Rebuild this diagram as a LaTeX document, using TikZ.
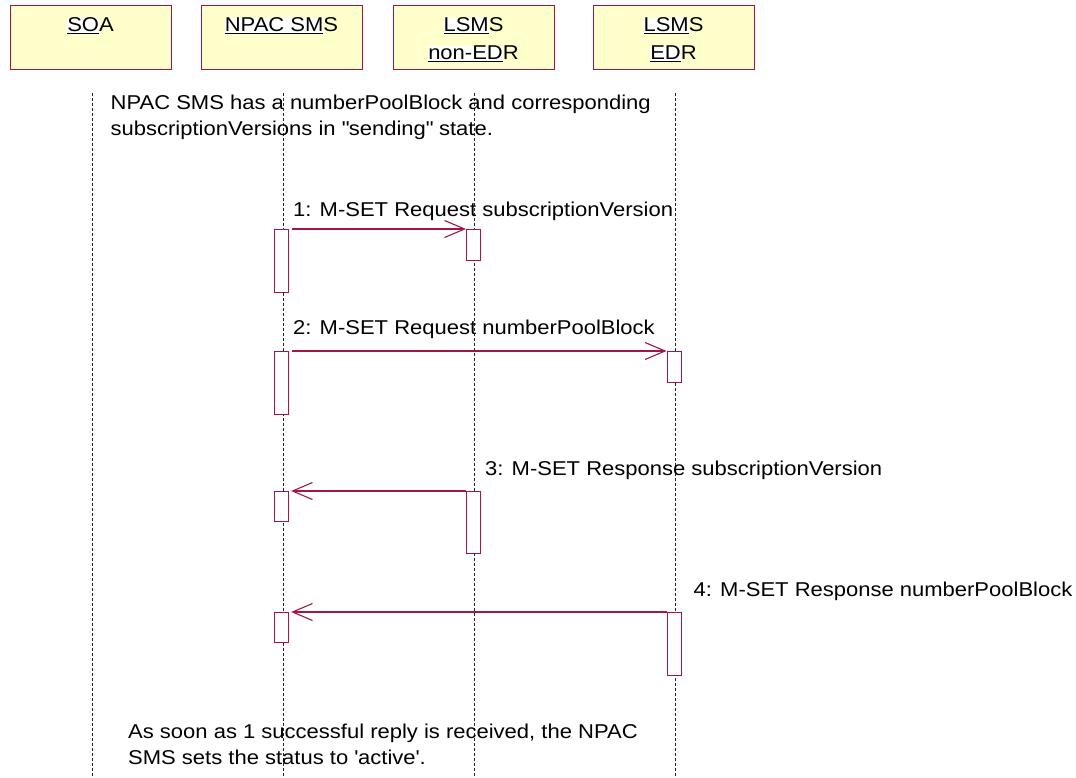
\documentclass[tikz,border=0pt]{standalone}
\usepackage{fontspec}
\setmainfont{Liberation Sans}[FakeStretch=1.1]
\usetikzlibrary{arrows.meta}
\definecolor{crim}{RGB}{165,20,72}
\definecolor{boxfill}{RGB}{255,255,204}
\newcommand{\hlu}[1]{{\setlength{\fboxsep}{0pt}\colorbox{white}{\underline{#1}}}}
\begin{document}
\begin{tikzpicture}[x=1pt,y=-1pt,
  font=\fontsize{20}{26}\selectfont,
  actor/.style={draw=crim, fill=boxfill, line width=1pt, minimum width=161pt, minimum height=63.5pt, inner sep=0pt, anchor=north west},
  life/.style={draw=black!85, line width=0.7pt, dash pattern=on 3pt off 2pt},
  actbar/.style={draw=crim, fill=white, line width=1.1pt, minimum width=14pt, inner sep=0pt, anchor=north west},
  msg/.style={draw=crim, line width=1.1pt, -{Straight Barb[length=20pt,width=17pt,line width=1.1pt]}},
  lbl/.style={anchor=base west, inner sep=0pt},
  htxt/.style={anchor=base, inner sep=0pt}]
\useasboundingbox (0,0) rectangle (1076,777);
% actor boxes
\node[actor] (soa) at (10,5) {};
\node[actor] (npac) at (201,5) {};
\node[actor] (lne) at (393,5) {};
\node[actor] (led) at (593,5) {};
\node[htxt] (soat) at (90.5,31.5) {\hlu{SO}A};
\node[htxt] (npact) at (281.5,31.5) {\hlu{NPAC SM}S};
\node[htxt] (lnet1) at (473.5,31.5) {\hlu{LSM}S};
\node[htxt] (lnet2) at (473.5,59.5) {\hlu{non-ED}R};
\node[htxt] (ledt1) at (673.5,31.5) {\hlu{LSM}S};
\node[htxt] (ledt2) at (673.5,59.5) {\hlu{ED}R};
% lifelines
\coordinate (s1) at (92,93);   \coordinate (s2) at (92,777);
\coordinate (n1) at (283,93);  \coordinate (n2) at (283,777);
\coordinate (e1) at (474.5,93); \coordinate (e2) at (474.5,777);
\coordinate (d1) at (675,93);  \coordinate (d2) at (675,777);
\draw[life] (s1) -- (s2);
\draw[life] (n1) -- (n2);
\draw[life] (e1) -- (e2);
\draw[life] (d1) -- (d2);
% notes
\node[lbl] (nt1) at (110.5,109) {NPAC SMS has a numberPoolBlock and corresponding};
\node[lbl] (nt2) at (110.5,135) {subscriptionVersions in \textquotedbl sending\textquotedbl\ state.};
\node[lbl] (nb1) at (128,738) {As soon as 1 successful reply is received, the NPAC};
\node[lbl] (nb2) at (128,764) {SMS sets the status to \textquotesingle active\textquotesingle.};
% activation bars
\node[actbar, minimum height=63pt] (a1) at (274,229) {};
\node[actbar, minimum height=31pt] (b1) at (466,229) {};
\node[actbar, minimum height=63pt] (a2) at (274,351) {};
\node[actbar, minimum height=31pt] (c2) at (666.5,351) {};
\node[actbar, minimum height=30pt] (a3) at (274,491) {};
\node[actbar, minimum height=62pt] (b3) at (466,491) {};
\node[actbar, minimum height=30pt] (a4) at (274,612) {};
\node[actbar, minimum height=63pt] (c4) at (666.5,612) {};
% messages
\draw[msg, shorten <=3pt] (a1.north east) -- (b1.north west);
\draw[msg, shorten <=3pt] (a2.north east) -- (c2.north west);
\draw[msg, shorten >=2pt] (b3.north west) -- (a3.north east);
\draw[msg, shorten >=2pt] (c4.north west) -- (a4.north east);
\node[lbl] (m1) at (293,216.5) {1: M-SET Request subscriptionVersion};
\node[lbl] (m2) at (293,334) {2: M-SET Request numberPoolBlock};
\node[lbl] (m3) at (485,475) {3: M-SET Response subscriptionVersion};
\node[lbl] (m4) at (693.5,596) {4: M-SET Response numberPoolBlock};
\end{tikzpicture}
\end{document}
